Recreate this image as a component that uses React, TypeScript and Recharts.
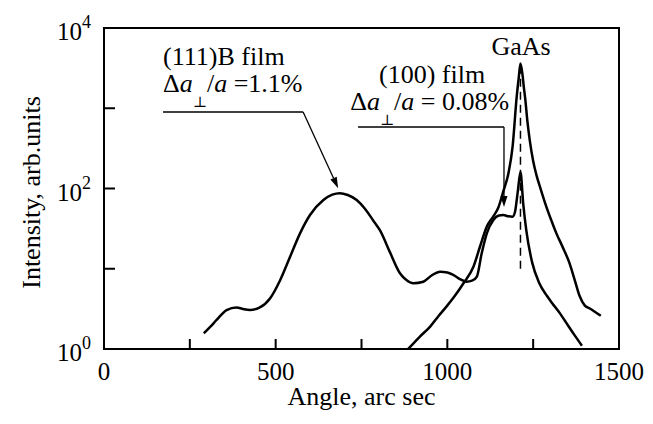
import React from 'react';
import { LineChart, Line, XAxis, YAxis, ReferenceArea, ReferenceLine, ReferenceDot } from 'recharts';

// (111)B film curve
const film111Angle = [291, 310, 328, 357, 386, 405, 425, 454, 484, 513, 542, 571, 600, 639, 665, 687, 710, 736, 760, 784, 804, 833, 862, 880, 901, 930, 955, 979, 1000, 1017, 1040, 1056, 1072, 1086, 1100, 1115, 1134, 1150, 1163, 1178, 1190, 1197, 1205, 1213, 1221, 1230, 1247, 1268, 1290, 1306, 1330, 1347, 1370, 1392];
const film111Intensity = [1.57, 1.9, 2.3, 3.06, 3.3, 3.15, 3.06, 3.3, 4.3, 7.2, 14.1, 27.6, 46.7, 72, 84, 87.5, 83, 72, 56, 40, 30, 16, 8.8, 7.3, 6.6, 6.9, 8.3, 9.2, 9.0, 8.4, 7.3, 6.9, 7.1, 8.0, 15.5, 27.6, 40.4, 46, 46.7, 45, 44.6, 51, 90, 160, 65, 30, 12, 6.6, 4.6, 3.7, 2.7, 2.1, 1.5, 1.1];

// (100) film curve
const film100Angle = [886, 918, 950, 975, 998, 1022, 1047, 1076, 1095, 1115, 1134, 1148, 1163, 1178, 1190, 1202, 1208, 1213, 1219, 1223, 1227, 1233, 1240, 1250, 1259, 1273, 1288, 1303, 1317, 1335, 1355, 1370, 1385, 1400, 1415, 1447];
const film100Intensity = [1.0, 1.4, 1.9, 2.6, 3.4, 4.6, 6.6, 10.6, 18.8, 33.5, 45, 57, 92, 155, 330, 1390, 2400, 3600, 2600, 1800, 1300, 700, 400, 220, 150, 95, 60, 40, 28, 19, 12, 7.5, 4.6, 3.5, 3.2, 2.6];

// GaAs substrate peak marker (dashed)
const gaasAngle = [1213, 1213];
const gaasIntensity = [10, 3300];

const xTicks = [0, 250, 500, 750, 1000, 1250, 1500];
const xLabelTicks = [0, 500, 1000, 1500];
const yTicks = [1, 10, 100, 1000, 10000];
const yLabelExponents = [0, 2, 4];

const d111 = film111Angle.map((x, i) => ({ x, y: film111Intensity[i] }));
const d100 = film100Angle.map((x, i) => ({ x, y: film100Intensity[i] }));
const dGaas = gaasAngle.map((x, i) => ({ x, y: gaasIntensity[i] }));

const FONT = '"Liberation Serif", "Times New Roman", Times, serif';
const fontStyle = { fontFamily: FONT };

const XTick = (props: any) => {
  const { x, y, payload } = props;
  const v = payload.value;
  return (
    <g>
      <line x1={x} y1={y} x2={x} y2={y - 10} stroke="#000" strokeWidth={2} />
      {xLabelTicks.includes(v) && (
        <text x={x} y={y + 31} textAnchor="middle" fontSize={25} style={fontStyle} fill="#000">
          {v}
        </text>
      )}
    </g>
  );
};

const YTick = (props: any) => {
  const { x, y, payload } = props;
  const exp = Math.round(Math.log10(payload.value));
  return (
    <g>
      <line x1={x} y1={y} x2={x + 11} y2={y} stroke="#000" strokeWidth={2} />
      {yLabelExponents.includes(exp) && (
        <text x={x - 13} y={y + 12} textAnchor="end" fontSize={25} style={fontStyle} fill="#000">
          10
          <tspan dy={-12} fontSize={18}>
            {exp}
          </tspan>
        </text>
      )}
    </g>
  );
};

const XLabel = (p: any) => {
  const vb = p.viewBox;
  return (
    <text x={vb.x + vb.width / 2} y={vb.y + 56} textAnchor="middle" fontSize={26} style={fontStyle} fill="#000">
      Angle, arc sec
    </text>
  );
};

const YLabel = (p: any) => {
  const vb = p.viewBox;
  const cx = 32;
  const cy = vb.y + vb.height / 2 + 4;
  return (
    <text x={cx} y={cy} transform={`rotate(-90, ${cx}, ${cy})`} textAnchor="middle" fontSize={26} style={fontStyle} fill="#000">
      Intensity, arb.units
    </text>
  );
};

const ArrowShape = (p: any) => {
  const { x1, y1, x2, y2 } = p;
  const ang = Math.atan2(y2 - y1, x2 - x1);
  const L = 11;
  const W = 3.5;
  const bx = x2 - L * Math.cos(ang);
  const by = y2 - L * Math.sin(ang);
  const px = -Math.sin(ang) * W;
  const py = Math.cos(ang) * W;
  return (
    <g>
      <line x1={x1} y1={y1} x2={bx} y2={by} stroke="#000" strokeWidth={1.3} />
      <polygon points={`${x2},${y2} ${bx + px},${by + py} ${bx - px},${by - py}`} fill="#000" />
    </g>
  );
};

const textShape = (content: React.ReactNode, anchor: string = 'start') => (p: any) => (
  <g style={fontStyle}>
    <text x={p.cx} y={p.cy} textAnchor={anchor} fontSize={26} fontFamily={FONT} style={fontStyle} fill="#000">
      {content}
    </text>
  </g>
);

const deltaText = (value: string) => [
  <tspan key="d">Δ</tspan>,
  <tspan key="a1" fontStyle="italic">a</tspan>,
  <tspan key="p" dy={15} fontSize={15} style={{ fontFamily: '"DejaVu Serif", serif' }}>⊥</tspan>,
  <tspan key="s" dy={-15}>/</tspan>,
  <tspan key="a2" fontStyle="italic">a</tspan>,
  <tspan key="v">{value}</tspan>,
];

export default function App() {
  return (
    <div style={{ width: 645, height: 416, fontFamily: FONT }}>
      <LineChart width={645} height={416} margin={{ top: 20, right: 34, bottom: 0, left: 0 }}>
        <XAxis
          type="number"
          dataKey="x"
          domain={[0, 1500]}
          ticks={xTicks}
          interval={0}
          allowDataOverflow
          axisLine={false}
          tickLine={false}
          tickSize={0}
          tickMargin={0}
          height={75}
          tick={<XTick />}
          label={XLabel}
        />
        <YAxis
          type="number"
          dataKey="y"
          scale="log"
          domain={[1, 10000]}
          ticks={yTicks}
          interval={0}
          allowDataOverflow
          axisLine={false}
          tickLine={false}
          tickSize={0}
          tickMargin={0}
          width={96}
          tick={<YTick />}
          label={YLabel}
        />
        <ReferenceArea x1={0} x2={1500} y1={1} y2={10000} fill="none" stroke="#000" strokeWidth={2} fillOpacity={0} />
        <Line data={d111} dataKey="y" type="monotone" stroke="#000" strokeWidth={2.5} dot={false} isAnimationActive={false} />
        <Line data={d100} dataKey="y" type="monotone" stroke="#000" strokeWidth={2.5} dot={false} isAnimationActive={false} />
        <Line data={dGaas} dataKey="y" type="linear" stroke="#000" strokeWidth={1.5} strokeDasharray="8 5" dot={false} isAnimationActive={false} />
        <ReferenceLine segment={[{ x: 172, y: 898 }, { x: 580, y: 898 }]} stroke="#000" strokeWidth={1.3} />
        <ReferenceLine segment={[{ x: 580, y: 898 }, { x: 682, y: 101 }]} shape={ArrowShape} />
        <ReferenceLine segment={[{ x: 740, y: 584 }, { x: 1165, y: 584 }]} stroke="#000" strokeWidth={1.3} />
        <ReferenceLine segment={[{ x: 1165, y: 584 }, { x: 1165, y: 58.8 }]} shape={ArrowShape} />
        <ReferenceDot x={172} y={3459} r={1} shape={textShape('(111)B film')} />
        <ReferenceDot x={172} y={1594} r={1} shape={textShape(deltaText(' =1.1%'))} />
        <ReferenceDot x={801} y={2064} r={1} shape={textShape('(100) film')} />
        <ReferenceDot x={717} y={951} r={1} shape={textShape(deltaText(' = 0.08%'))} />
        <ReferenceDot x={1215} y={4610} r={1} shape={textShape('GaAs', 'middle')} />
      </LineChart>
    </div>
  );
}
